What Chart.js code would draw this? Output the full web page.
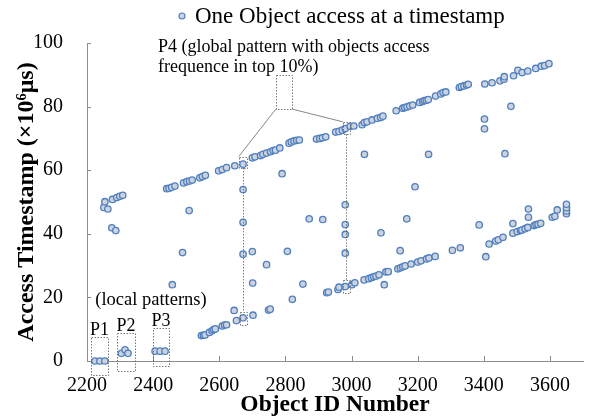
<!DOCTYPE html>
<html>
<head>
<meta charset="utf-8">
<script src="https://cdn.jsdelivr.net/npm/chart.js@4/dist/chart.umd.min.js"></script>
<style>
  html, body { margin: 0; padding: 0; background: #fff; }
  canvas { display: block; }
</style>
</head>
<body>
<canvas id="c" width="592" height="419"></canvas>
<script>
// object id / access time (x10^6 us)
const localIds   = [2224, 2239, 2254, 2304, 2315, 2324, 2406, 2421, 2436];
const localTimes = [0, 0, 0, 2.4, 3.5, 2.4, 3.1, 3.1, 3.1];

const upperIds = [2251, 2263, 2254, 2277, 2290, 2299, 2308,
  2441, 2448, 2456, 2466, 2492, 2502, 2510, 2518, 2541, 2549, 2558, 2598, 2609, 2622, 2647, 2672,
  2700, 2708, 2725, 2732, 2743, 2755, 2763, 2770, 2783, 2811, 2818, 2826, 2834, 2842,
  2894, 2904, 2912, 2922, 2952, 2962, 2972, 2981, 2996, 3007, 3032, 3039, 3047, 3062, 3078, 3088, 3095,
  3135, 3155, 3161, 3168, 3176, 3185, 3206, 3215, 3220, 3226, 3232, 3254, 3270, 3277, 3285,
  3326, 3332, 3340, 3348, 3353, 3403, 3425, 3449, 3461, 3462, 3490, 3503, 3516, 3533, 3557, 3574, 3584, 3597];
const upperTimes = [48.3, 47.8, 50.1, 50.8, 51.4, 51.8, 52.1,
  54.2, 54.3, 54.6, 55.0, 56.0, 56.4, 56.6, 56.9, 57.6, 58.0, 58.4, 59.8, 60.2, 60.8, 61.4, 61.9,
  63.9, 64.2, 64.6, 65.0, 65.4, 65.8, 66.2, 66.3, 67.0, 68.5, 68.9, 69.2, 69.4, 69.5,
  69.8, 70.0, 70.2, 70.5, 72.0, 72.2, 72.6, 73.1, 73.8, 73.9, 74.3, 75.0, 75.2, 75.8, 76.3, 76.6, 77.0,
  78.7, 79.5, 79.7, 79.9, 80.2, 80.5, 81.3, 81.6, 81.9, 82.0, 82.2, 83.3, 84.0, 84.4, 84.6,
  86.0, 86.3, 86.5, 86.8, 87.0, 87.1, 87.5, 88.1, 88.6, 89.4, 89.7, 91.4, 90.7, 91.2, 92.0, 92.7, 92.9, 93.5];

const lowerIds = [2546, 2552, 2557, 2570, 2578, 2583, 2588, 2609, 2616, 2622, 2645, 2652, 2672, 2702, 2749, 2754,
  2821, 2853, 2925, 2930, 2959, 2962, 2981, 3001, 3010, 3038, 3052, 3060, 3067, 3074, 3083, 3104, 3111,
  3140, 3148, 3155, 3162, 3180, 3200, 3210, 3227, 3234, 3253, 3305, 3329, 3416, 3436, 3444, 3458,
  3488, 3501, 3511, 3515, 3525, 3533, 3552, 3558, 3564, 3572, 3607, 3615, 3622, 3650, 3650, 3650, 3650];
const lowerTimes = [8.0, 8.1, 8.2, 9.0, 9.5, 9.9, 10.1, 11.0, 11.3, 11.4, 15.9, 12.7, 13.6, 14.4, 16.0, 16.3,
  19.4, 24.2, 21.5, 21.7, 22.5, 23.2, 23.4, 24.0, 24.6, 25.5, 25.9, 26.2, 26.5, 26.7, 27.1, 28.0, 28.1,
  29.0, 29.3, 29.6, 29.9, 30.5, 31.1, 31.5, 32.1, 32.4, 32.9, 34.8, 35.6, 36.8, 37.7, 38.1, 38.9,
  40.2, 40.7, 41.0, 41.2, 41.6, 42.0, 42.6, 42.9, 43.0, 43.3, 45.2, 45.5, 47.5, 46.3, 47.2, 48.2, 49.3];

const scatterIds = [2275, 2287, 2509, 2489, 2458, 2672, 2672, 2672, 2700, 2701, 2743, 2806, 2790, 2872, 2913,
  2981, 2981, 2981, 2981, 3039, 3099, 3089, 3147, 3167, 3192, 3233, 3386, 3406, 3402, 3402, 3464, 3482,
  3488, 3535, 3535];
const scatterTimes = [41.9, 41.0, 47.3, 34.1, 24.0, 53.9, 43.6, 33.6, 34.4, 24.5, 30.3, 34.5, 58.9, 44.7, 44.5,
  49.1, 42.9, 39.8, 33.9, 65.0, 24.0, 40.3, 34.7, 44.7, 54.8, 65.0, 42.8, 32.8, 76.1, 73.0, 65.2, 80.1,
  43.2, 45.2, 47.8];

const xTicks = [2200, 2400, 2600, 2800, 3000, 3200, 3400, 3600];
const yTicks = [0, 20, 40, 60, 80, 100];
const seriesLabel = 'One Object access at a timestamp';

// annotation boxes [x1, y1, x2, y2] in data units
const p4Box = [2771, 79.2, 2821, 90];
const p4Hits = [[2659, 60.7, 2683, 64.3], [2974, 71.3, 2995, 75.2]];
const p4Tails = [[2662, 11.3, 2684, 15.5], [2974, 21.3, 2995, 25.5]];
const localBoxes = [[2212, -4.4, 2263, 7.5], [2292, -3.0, 2344, 8.9], [2399, -1.5, 2448, 10.5]];
const localNames = ['P1', 'P2', 'P3'];

const ids = [].concat(localIds, upperIds, lowerIds, scatterIds);
const times = [].concat(localTimes, upperTimes, lowerTimes, scatterTimes);
const points = ids.map((v, i) => ({x: v, y: times[i]}));

const SERIF = "'Liberation Serif', 'Times New Roman', serif";
const dotBlue = '#4f7fc0', dotFill = '#ccd3dd', axisGray = '#8c8c8c';

const annotate = {
  id: 'annotate',
  afterDraw(chart) {
    const {ctx, chartArea: a, scales: {x, y}} = chart;
    const px = v => x.getPixelForValue(v), py = v => y.getPixelForValue(v);
    ctx.save();

    // inward tick marks
    ctx.strokeStyle = axisGray; ctx.lineWidth = 1; ctx.setLineDash([]);
    ctx.beginPath();
    xTicks.forEach(v => {
      const X = Math.round(px(v)) + 0.5;
      ctx.moveTo(X, a.bottom); ctx.lineTo(X, a.bottom - 5);
    });
    yTicks.forEach(v => {
      const Y = Math.round(py(v)) + 0.5;
      ctx.moveTo(a.left, Y); ctx.lineTo(a.left + 4, Y);
    });
    ctx.stroke();

    const rect = b => {
      const x1 = Math.round(px(b[0])) + 0.5, x2 = Math.round(px(b[2])) + 0.5;
      const y1 = Math.round(py(b[1])) + 0.5, y2 = Math.round(py(b[3])) + 0.5;
      ctx.strokeRect(x1, y2, x2 - x1, y1 - y2);
    };

    // dotted boxes
    ctx.strokeStyle = '#555'; ctx.lineWidth = 0.8; ctx.setLineDash([1.5, 1.5]);
    rect(p4Box);
    p4Hits.forEach(rect);
    p4Tails.forEach(rect);
    localBoxes.forEach(rect);

    // vertical dotted links
    ctx.beginPath();
    p4Hits.forEach((b, i) => {
      const X = Math.round(px((b[0] + b[2]) / 2)) + 0.5;
      ctx.moveTo(X, py(b[1])); ctx.lineTo(X, py(p4Tails[i][3]));
    });
    ctx.stroke();

    // lines from P4 box to the hits
    ctx.setLineDash([]); ctx.strokeStyle = '#6a6a6a'; ctx.lineWidth = 0.8;
    ctx.beginPath();
    ctx.moveTo(px(p4Box[0]), py(p4Box[1])); ctx.lineTo(px(p4Hits[0][0]), py(p4Hits[0][3]));
    ctx.moveTo(px(p4Box[2]), py(p4Box[1])); ctx.lineTo(px(p4Hits[1][0]), py(p4Hits[1][3]));
    ctx.stroke();

    // texts
    ctx.fillStyle = '#000';
    ctx.font = '18px ' + SERIF;
    ctx.textAlign = 'left'; ctx.textBaseline = 'alphabetic';
    ctx.fillText('P4 (global pattern with objects access', px(2415), py(97.2));
    ctx.fillText('frequence in top 10%)', px(2415), py(90.9));
    ctx.font = '18.5px ' + SERIF;
    ctx.textBaseline = 'middle';
    ctx.fillText('(local patterns)', px(2225), py(19.2));
    ctx.font = '18px ' + SERIF;
    ctx.textAlign = 'center'; ctx.textBaseline = 'alphabetic';
    localBoxes.forEach((b, i) => ctx.fillText(localNames[i], px((b[0] + b[2]) / 2), py(b[3]) - 2));

    // legend
    const lx = 182, ly = 16;
    ctx.beginPath();
    ctx.arc(lx, ly, 3, 0, Math.PI * 2);
    ctx.fillStyle = dotFill; ctx.fill();
    ctx.strokeStyle = dotBlue; ctx.lineWidth = 1.2; ctx.stroke();
    ctx.fillStyle = '#000';
    ctx.font = '23px ' + SERIF;
    ctx.textAlign = 'left'; ctx.textBaseline = 'middle';
    ctx.fillText(seriesLabel, 195, ly + 1);
    ctx.restore();
  }
};

new Chart(document.getElementById('c'), {
  type: 'scatter',
  data: {
    datasets: [{
      label: seriesLabel,
      data: points,
      pointRadius: 3.2,
      pointBorderWidth: 1.3,
      borderColor: dotBlue,
      backgroundColor: dotFill,
      clip: false
    }]
  },
  options: {
    responsive: false,
    animation: false,
    layout: {padding: {top: 43, right: 9, left: 0, bottom: 0}},
    plugins: {legend: {display: false}, tooltip: {enabled: false}},
    scales: {
      x: {
        type: 'linear', min: 2200, max: 3700,
        afterFit: s => { s.height = 58; },
        afterBuildTicks: s => { s.ticks = xTicks.map(v => ({value: v})); },
        grid: {drawOnChartArea: false, drawTicks: false},
        border: {color: axisGray, width: 1},
        ticks: {color: '#000', padding: 13, maxRotation: 0, font: {family: SERIF, size: 20},
          callback: v => String(v)},
        title: {display: true, text: 'Object ID Number', color: '#000', padding: {top: 0, bottom: 0},
          font: {family: SERIF, size: 23.5, weight: 'bold'}}
      },
      y: {
        type: 'linear', min: 0, max: 100,
        afterFit: s => { s.width = 87; },
        afterBuildTicks: s => { s.ticks = yTicks.map(v => ({value: v})); },
        grid: {drawOnChartArea: false, drawTicks: false},
        border: {color: axisGray, width: 1},
        ticks: {color: '#000', padding: 24, font: {family: SERIF, size: 20},
          callback: v => String(v)},
        title: {display: true, text: 'Access Timestamp (×10⁶μs)', color: '#000', padding: {top: 12, bottom: 0},
          font: {family: SERIF, size: 24, weight: 'bold'}}
      }
    }
  },
  plugins: [annotate]
});
</script>
</body>
</html>
